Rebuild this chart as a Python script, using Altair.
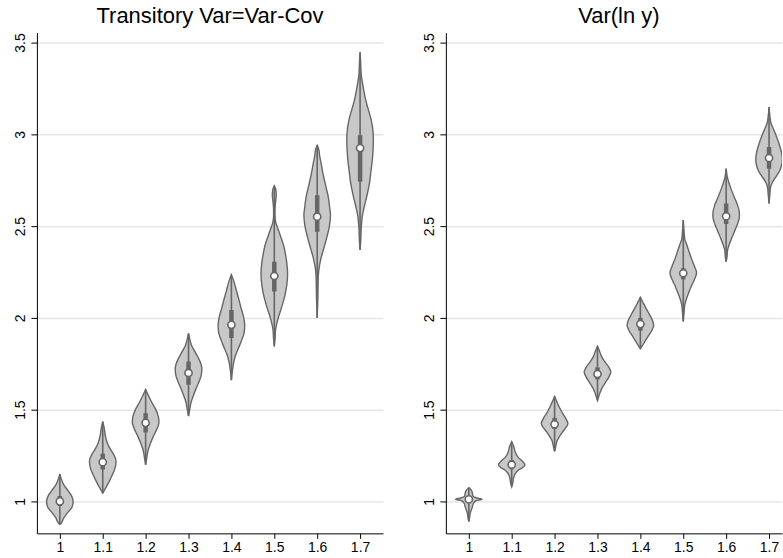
import altair as alt
import pandas as pd

categories = [1.0, 1.1, 1.2, 1.3, 1.4, 1.5, 1.6, 1.7]

# ---------- Panel 1: "Transitory Var=Var-Cov" : violin outlines (value, relative density) ----------
tv_y_10 = [1.15, 1.12, 1.09, 1.06, 1.03, 1.00, 0.97, 0.94, 0.91, 0.88, 0.875]
tv_d_10 = [0, 0.12, 0.30, 0.60, 0.88, 1.00, 0.92, 0.60, 0.30, 0.08, 0]
tv_y_11 = [1.435, 1.40, 1.36, 1.32, 1.29, 1.26, 1.22, 1.18, 1.14, 1.10, 1.07, 1.045]
tv_d_11 = [0, 0.11, 0.19, 0.34, 0.53, 0.79, 1.00, 0.92, 0.69, 0.42, 0.19, 0]
tv_y_12 = [1.61, 1.58, 1.54, 1.50, 1.46, 1.43, 1.40, 1.36, 1.32, 1.28, 1.24, 1.20]
tv_d_12 = [0, 0.19, 0.46, 0.77, 0.96, 1.00, 0.88, 0.62, 0.38, 0.19, 0.09, 0]
tv_y_13 = [1.915, 1.88, 1.85, 1.82, 1.78, 1.75, 1.72, 1.69, 1.66, 1.62, 1.58, 1.54, 1.50, 1.465]
tv_d_13 = [0, 0.11, 0.23, 0.45, 0.75, 0.93, 1.00, 0.96, 0.83, 0.60, 0.38, 0.19, 0.09, 0]
tv_y_14 = [2.235, 2.20, 2.15, 2.10, 2.05, 2.00, 1.96, 1.92, 1.88, 1.84, 1.80, 1.76, 1.72, 1.66]
tv_d_14 = [0, 0.18, 0.37, 0.56, 0.74, 0.93, 1.00, 0.96, 0.78, 0.56, 0.33, 0.18, 0.09, 0]
tv_y_15 = [2.72, 2.70, 2.67, 2.64, 2.60, 2.56, 2.52, 2.48, 2.44, 2.40, 2.35, 2.30, 2.24,
           2.18, 2.12, 2.06, 2.01, 1.97, 1.93, 1.89, 1.845]
tv_d_15 = [0, 0.11, 0.15, 0.11, 0.06, 0.05, 0.11, 0.30, 0.49, 0.68, 0.83, 0.94, 1.00,
           0.94, 0.79, 0.56, 0.34, 0.19, 0.09, 0.06, 0]
tv_y_16 = [2.94, 2.92, 2.88, 2.84, 2.78, 2.72, 2.66, 2.60, 2.56, 2.50, 2.44, 2.38, 2.32,
           2.27, 2.22, 2.10, 2.00]
tv_d_16 = [0, 0.11, 0.19, 0.30, 0.45, 0.64, 0.83, 0.94, 1.00, 0.92, 0.73, 0.50, 0.27,
           0.14, 0.08, 0.05, 0]
tv_y_17 = [3.447, 3.40, 3.33, 3.28, 3.23, 3.185, 3.14, 3.09, 3.04, 2.98, 2.92, 2.86, 2.80,
           2.74, 2.68, 2.64, 2.60, 2.56, 2.52, 2.48, 2.42, 2.37]
tv_d_17 = [0, 0.04, 0.08, 0.18, 0.30, 0.43, 0.60, 0.80, 0.93, 1.00, 0.98, 0.92, 0.82,
           0.72, 0.56, 0.43, 0.30, 0.18, 0.12, 0.08, 0.05, 0]

tv_median = [1.00, 1.214, 1.428, 1.70, 1.962, 2.228, 2.551, 2.925]
tv_q1 = [0.975, 1.174, 1.375, 1.636, 1.89, 2.143, 2.469, 2.741]
tv_q3 = [1.03, 1.26, 1.48, 1.762, 2.043, 2.306, 2.668, 2.995]

# ---------- Panel 2: "Var(ln y)" ----------
lv_y_10 = [1.075, 1.06, 1.045, 1.03, 1.02, 1.012, 1.004, 0.99, 0.97, 0.95, 0.93, 0.91, 0.89]
lv_d_10 = [0, 0.20, 0.27, 0.31, 0.55, 1.00, 0.55, 0.35, 0.27, 0.17, 0.09, 0.06, 0]
lv_y_11 = [1.325, 1.30, 1.27, 1.24, 1.22, 1.20, 1.185, 1.17, 1.15, 1.13, 1.10, 1.08]
lv_d_11 = [0, 0.15, 0.26, 0.49, 0.79, 1.00, 0.83, 0.49, 0.26, 0.15, 0.08, 0]
lv_y_12 = [1.572, 1.54, 1.51, 1.48, 1.45, 1.425, 1.40, 1.375, 1.35, 1.33, 1.30, 1.273]
lv_d_12 = [0, 0.19, 0.38, 0.60, 0.86, 1.00, 0.83, 0.56, 0.34, 0.19, 0.09, 0]
lv_y_13 = [1.845, 1.82, 1.79, 1.76, 1.73, 1.705, 1.68, 1.65, 1.62, 1.59, 1.57, 1.55]
lv_d_13 = [0, 0.15, 0.30, 0.56, 0.86, 1.00, 0.87, 0.62, 0.36, 0.18, 0.09, 0]
lv_y_14 = [2.112, 2.08, 2.05, 2.02, 1.99, 1.96, 1.93, 1.90, 1.87, 1.85, 1.832]
lv_d_14 = [0, 0.22, 0.44, 0.67, 0.89, 1.00, 0.85, 0.59, 0.33, 0.16, 0]
lv_y_15 = [2.533, 2.47, 2.43, 2.40, 2.36, 2.32, 2.28, 2.245, 2.21, 2.17, 2.13, 2.10, 2.07, 2.03, 1.98]
lv_d_15 = [0, 0.06, 0.11, 0.26, 0.44, 0.63, 0.85, 1.00, 0.85, 0.59, 0.37, 0.22, 0.11, 0.06, 0]
lv_y_16 = [2.813, 2.77, 2.74, 2.70, 2.66, 2.62, 2.58, 2.555, 2.52, 2.48, 2.44, 2.40, 2.37, 2.33, 2.306]
lv_d_16 = [0, 0.08, 0.19, 0.38, 0.60, 0.83, 0.98, 1.00, 0.90, 0.68, 0.45, 0.23, 0.11, 0.06, 0]
lv_y_17 = [3.148, 3.10, 3.06, 3.02, 2.98, 2.94, 2.90, 2.86, 2.83, 2.80, 2.77, 2.74, 2.71, 2.67, 2.623]
lv_d_17 = [0, 0.06, 0.15, 0.38, 0.60, 0.79, 0.94, 1.00, 0.94, 0.79, 0.53, 0.26, 0.11, 0.06, 0]

lv_median = [1.011, 1.20, 1.42, 1.694, 1.966, 2.243, 2.554, 2.871]
lv_q1 = [0.995, 1.175, 1.395, 1.665, 1.93, 2.21, 2.511, 2.813]
lv_q3 = [1.025, 1.225, 1.455, 1.73, 2.00, 2.27, 2.623, 2.931]

x_ticks = [1, 1.1, 1.2, 1.3, 1.4, 1.5, 1.6, 1.7]
y_ticks = [1, 1.5, 2, 2.5, 3, 3.5]

# ---------- styles ----------
FILL = "#c8c8c8"
EDGE = "#666666"
HALF_W = 0.031          # max half-width of a violin in x units
FONT = "Liberation Sans"

tv_ys = [tv_y_10, tv_y_11, tv_y_12, tv_y_13, tv_y_14, tv_y_15, tv_y_16, tv_y_17]
tv_ds = [tv_d_10, tv_d_11, tv_d_12, tv_d_13, tv_d_14, tv_d_15, tv_d_16, tv_d_17]
lv_ys = [lv_y_10, lv_y_11, lv_y_12, lv_y_13, lv_y_14, lv_y_15, lv_y_16, lv_y_17]
lv_ds = [lv_d_10, lv_d_11, lv_d_12, lv_d_13, lv_d_14, lv_d_15, lv_d_16, lv_d_17]


def violin_df(cat, yv, dv):
    df = pd.DataFrame({"cat": cat, "v": yv, "d": dv})
    return df.sort_values("v").reset_index(drop=True)


def box_df(ys, med, q1, q3):
    return pd.DataFrame({
        "cat": categories, "med": med, "q1": q1, "q3": q3,
        "lo": [min(a) for a in ys], "hi": [max(a) for a in ys],
    })


def panel(title, ys_list, ds_list, bdf, width, xmax, dx):
    xs = alt.Scale(domain=[0.9465, xmax], nice=False, zero=False)
    ysc = alt.Scale(domain=[0.826, 3.554], nice=False, zero=False)
    xaxis = alt.Axis(values=x_ticks, format="~g", grid=False, title=None,
                     labelPadding=2, tickSize=5, labelFlush=False)
    yaxis = alt.Axis(values=y_ticks, format="~g", grid=True, title=None,
                     labelAngle=270, tickSize=6, labelPadding=3)

    layers = []
    for cat, yv, dv in zip(categories, ys_list, ds_list):
        layers.append(
            alt.Chart(violin_df(cat, yv, dv)).transform_calculate(
                lo=f"datum.cat - {HALF_W} * datum.d",
                hi=f"datum.cat + {HALF_W} * datum.d",
            ).mark_area(orient="horizontal", interpolate="monotone", fill=FILL,
                        stroke=EDGE, strokeWidth=1.4, clip=True, opacity=1).encode(
                y=alt.Y("v:Q", scale=ysc, axis=yaxis),
                x=alt.X("lo:Q", scale=xs, axis=xaxis, stack=None),
                x2="hi:Q",
            )
        )
    whisk = alt.Chart(bdf).mark_rule(color=EDGE, strokeWidth=1.6, clip=True).encode(
        x=alt.X("cat:Q", scale=xs, axis=xaxis), y=alt.Y("lo:Q", scale=ysc, axis=yaxis), y2="hi:Q")
    box = alt.Chart(bdf).mark_rule(color=EDGE, strokeWidth=4.5, clip=True).encode(
        x=alt.X("cat:Q", scale=xs, axis=xaxis), y=alt.Y("q1:Q", scale=ysc, axis=yaxis), y2="q3:Q")
    med = alt.Chart(bdf).mark_point(shape="circle", filled=True, fill="white", opacity=1,
                                    stroke=EDGE, strokeWidth=1.6, size=52, clip=True).encode(
        x=alt.X("cat:Q", scale=xs, axis=xaxis), y=alt.Y("med:Q", scale=ysc, axis=yaxis))
    return alt.layer(*layers, whisk, box, med).properties(
        width=width, height=502,
        title=alt.TitleParams(title, fontSize=22, font=FONT, fontWeight="normal",
                              color="black", offset=5, dx=dx),
    )


left = panel("Transitory Var=Var-Cov", tv_ys, tv_ds,
             box_df(tv_ys, tv_median, tv_q1, tv_q3), 347, 1.7535, 0)
right = panel("Var(ln y)", lv_ys, lv_ds,
              box_df(lv_ys, lv_median, lv_q1, lv_q3), 337, 1.7302, 5)

chart = alt.hconcat(left, right, spacing=38).properties(
    padding={"left": 13, "top": 3, "right": 0, "bottom": 0}
).configure_view(stroke="transparent").configure_axis(
    domainColor="black", domainWidth=1, tickColor="black", tickWidth=1,
    labelColor="black", labelFont=FONT, labelFontSize=14,
    gridColor="#e6e6e6", gridWidth=1.5,
)

chart.save("out.html", embed_options={"renderer": "svg", "actions": False})
